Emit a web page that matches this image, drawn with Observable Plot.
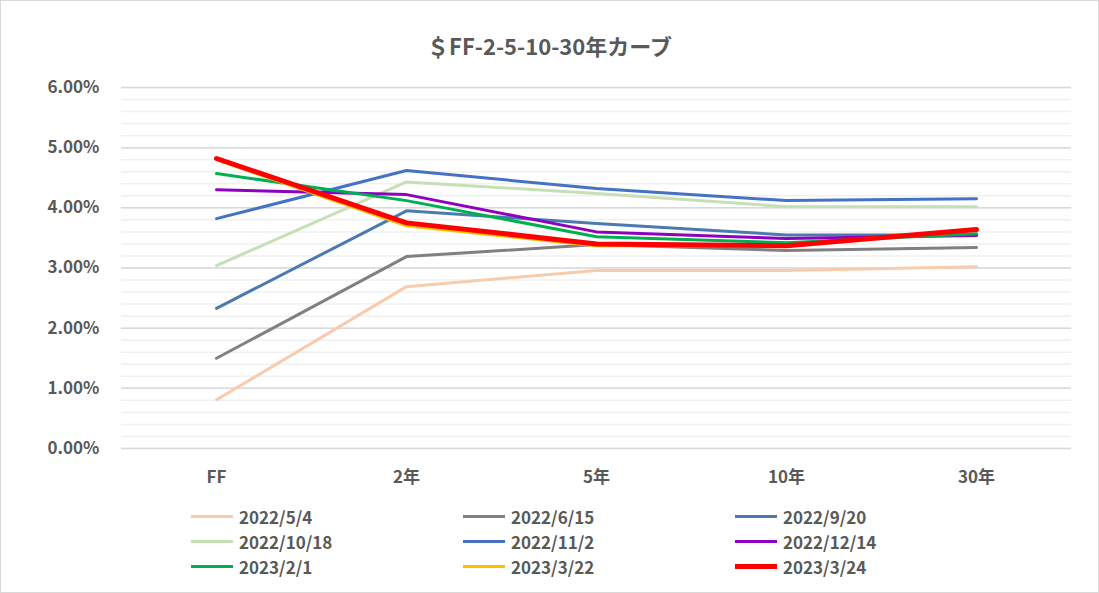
<!DOCTYPE html>
<html><head><meta charset="utf-8">
<script src="https://cdn.jsdelivr.net/npm/d3@7"></script>
<script src="https://cdn.jsdelivr.net/npm/@observablehq/plot@0.6"></script>
<style>
body{margin:0;background:#fff;font-family:"Noto Sans CJK JP","Noto Sans",sans-serif;}
#wrap{position:relative;width:1097px;height:591px;border:1px solid #d9d9d9;overflow:hidden}
#title{height:70px;line-height:88px;text-align:center;font-size:22px;font-weight:bold;color:#595959}
#legend{position:absolute;left:190px;top:503px;display:grid;grid-template-columns:272px 272px 272px;row-gap:0px;font-size:17px;font-weight:bold;color:#595959}
#legend div{display:flex;align-items:center;height:25px}
#legend span{display:inline-block;width:42px;margin-right:6px}
</style></head><body>
<div id="wrap"><div id="title">＄FF-2-5-10-30年カーブ</div><div id="chart"></div><div id="legend"></div></div>
<script>
const tenors=["FF","2年","5年","10年","30年"];
const seriesNames=["2022/5/4","2022/6/15","2022/9/20","2022/10/18","2022/11/2","2022/12/14","2023/2/1","2023/3/22","2023/3/24"];
const colors=["#f8cbad","#808080","#4a7ab0","#c5e0b4","#4472c4","#9000c0","#00b050","#ffc000","#ff0000"];
const widths=[3,3,3,3,3,3,3,3,5];
const v0=[0.81,2.69,2.96,2.96,3.02];
const v1=[1.50,3.19,3.39,3.29,3.34];
const v2=[2.33,3.95,3.74,3.55,3.55];
const v3=[3.04,4.43,4.24,4.02,4.02];
const v4=[3.82,4.62,4.32,4.12,4.15];
const v5=[4.30,4.22,3.60,3.49,3.54];
const v6=[4.57,4.12,3.52,3.42,3.57];
const v7=[4.80,3.70,3.37,3.37,3.65];
const v8=[4.82,3.75,3.40,3.37,3.64];
const vals=[v0,v1,v2,v3,v4,v5,v6,v7,v8];
const majors=[0,1,2,3,4,5,6];
const minors=d3.range(0,6.01,0.2).map(d=>+d.toFixed(1));
const data=vals.flatMap((v,i)=>v.map((y,j)=>({s:seriesNames[i],t:tenors[j],y:y/100})));
const plot=Plot.plot({
  width:1097,height:430,marginLeft:120,marginRight:27,marginTop:16,marginBottom:53,
  style:{fontFamily:"'Noto Sans CJK JP','Noto Sans',sans-serif",fontSize:"16px",fontWeight:"bold",color:"#595959"},
  x:{type:"point",domain:tenors,padding:0.5,label:null},
  y:{domain:[0,0.06],label:null},
  axisX:null,
  marks:[
    Plot.ruleY(minors,{y:d=>d/100,stroke:"#f0f0f0",strokeWidth:1.5}),
    Plot.ruleY(majors,{y:d=>d/100,stroke:"#d9d9d9",strokeWidth:1.5}),
    Plot.axisY({ticks:majors.map(d=>d/100),tickFormat:d=>(d*100).toFixed(2)+"%",tickSize:0,tickPadding:22,fontSize:17}),
    Plot.axisX({tickSize:0,tickPadding:22,fontSize:17}),
    ...seriesNames.map((s,i)=>Plot.line(data.filter(d=>d.s===s),{x:"t",y:"y",stroke:colors[i],strokeWidth:widths[i]}))
  ]
});
document.getElementById("chart").append(plot);
const lg=document.getElementById("legend");
seriesNames.forEach((s,i)=>{const d=document.createElement("div");d.innerHTML=`<span style="height:${widths[i]}px;background:${colors[i]}"></span>${s}`;lg.append(d);});
</script></body></html>
